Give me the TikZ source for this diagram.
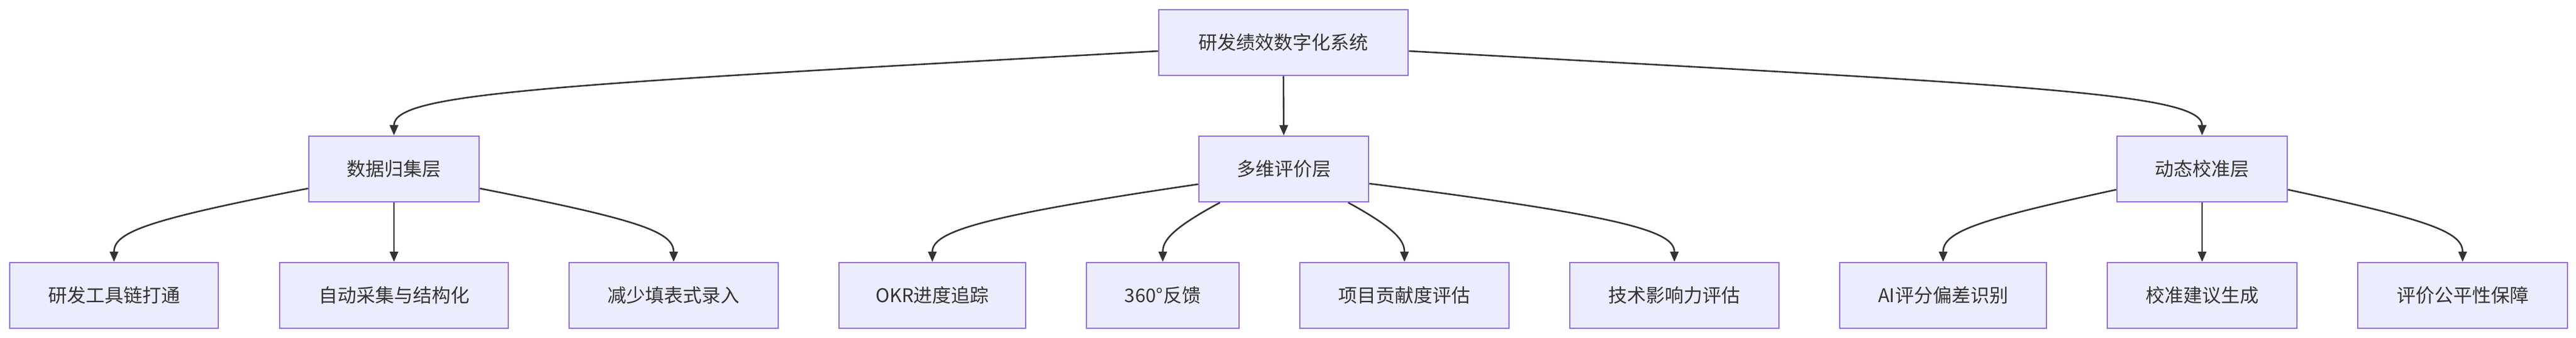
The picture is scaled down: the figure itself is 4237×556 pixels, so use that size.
\documentclass[tikz,border=0pt]{standalone}
\usepackage{fontspec}
\setmainfont{Noto Sans CJK SC}
\usetikzlibrary{arrows.meta,calc}
\definecolor{nfill}{HTML}{ECECFF}
\definecolor{ndraw}{HTML}{9370DB}
\definecolor{ink}{HTML}{333333}
\begin{document}
\begin{tikzpicture}[x=1pt,y=-1pt,
  box/.style={draw=ndraw,fill=nfill,line width=2.5pt,inner sep=0pt,text=ink,font=\fontsize{31}{36}\selectfont},
  arr/.style={draw=ink,line width=2.6pt,-{Triangle[length=17pt,width=14pt]}}]
\useasboundingbox (0,0) rectangle (4237,556);
\newcommand{\bx}[6]{\node[box,minimum width=#4-#3,minimum height=108] (#1) at ({(#3+#4)/2},#5) {#6};}
\bx{root}{}{1906}{2316}{70}{研发绩效数字化系统}
\bx{d}{}{508}{788}{278}{数据归集层}
\bx{m}{}{1972}{2251}{278}{多维评价层}
\bx{c}{}{3482}{3762}{278}{动态校准层}
\bx{d1}{}{16}{359}{486}{研发工具链打通}
\bx{d2}{}{460}{836}{486}{自动采集与结构化}
\bx{d3}{}{936}{1280}{486}{减少填表式录入}
\bx{m1}{}{1380}{1687}{486}{OKR进度追踪}
\bx{m2}{}{1787}{2038}{486}{360°反馈}
\bx{m3}{}{2138}{2482}{486}{项目贡献度评估}
\bx{m4}{}{2582}{2926}{486}{技术影响力评估}
\bx{c1}{}{3026}{3366}{486}{AI评分偏差识别}
\bx{c2}{}{3466}{3778}{486}{校准建议生成}
\bx{c3}{}{3878}{4223}{486}{评价公平性保障}
% root edges
\draw[arr] ($(root.west)+(0,14)$) .. controls (900,140) and ($(d.north)+(0,-70)$) .. (d.north);
\draw[arr] (root.south) -- (m.north);
\draw[arr] ($(root.east)+(0,14)$) .. controls (3330,140) and ($(c.north)+(0,-70)$) .. (c.north);
% data
\draw[arr] ($(d.west)+(0,32)$) .. controls ($(d1.north)+(60,-70)$) and ($(d1.north)+(0,-50)$) .. (d1.north);
\draw[arr] (d.south) -- (d2.north);
\draw[arr] ($(d.east)+(0,32)$) .. controls ($(d3.north)+(-60,-70)$) and ($(d3.north)+(0,-50)$) .. (d3.north);
% multi
\draw[arr] ($(m.west)+(0,25)$) .. controls ($(m1.north)+(80,-75)$) and ($(m1.north)+(0,-50)$) .. (m1.north);
\draw[arr] ($(m.south)+(-105,0)$) .. controls ($(m2.north)+(15,-55)$) and ($(m2.north)+(0,-35)$) .. (m2.north);
\draw[arr] ($(m.south)+(106,0)$) .. controls ($(m3.north)+(-15,-55)$) and ($(m3.north)+(0,-35)$) .. (m3.north);
\draw[arr] ($(m.east)+(0,24)$) .. controls ($(m4.north)+(-80,-75)$) and ($(m4.north)+(0,-50)$) .. (m4.north);
% calib
\draw[arr] ($(c.west)+(0,34)$) .. controls ($(c1.north)+(60,-70)$) and ($(c1.north)+(0,-50)$) .. (c1.north);
\draw[arr] (c.south) -- (c2.north);
\draw[arr] ($(c.east)+(0,34)$) .. controls ($(c3.north)+(-60,-70)$) and ($(c3.north)+(0,-50)$) .. (c3.north);
\end{tikzpicture}
\end{document}
